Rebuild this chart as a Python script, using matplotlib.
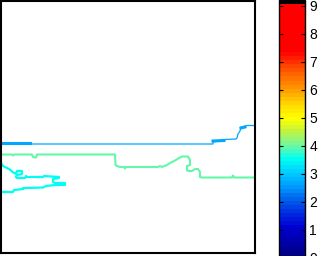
import numpy as np
import matplotlib
matplotlib.use("Agg")
import matplotlib.pyplot as plt
from matplotlib.colors import ListedColormap, Normalize, LinearSegmentedColormap
from matplotlib.cm import ScalarMappable

plt.rcParams['font.family'] = ['Liberation Sans', 'DejaVu Sans']

# colour scale
cb_ticks = [0, 1, 2, 3, 4, 5, 6, 7, 8, 9]
cb_max = 9.2
stop_vals = [0, 0.5, 1, 1.5, 2, 2.5, 3, 3.5, 4, 4.5, 5, 5.5, 6, 6.5, 7, 7.4, 9.2]
stop_cols = [(0, 0, 0.5), (0, 0, 0.67), (0, 0, 0.82), (0, 0.16, 0.88), (0, 0.38, 0.92),
             (0, 0.6, 1), (0, 0.8, 1), (0, 1, 0.95), (0.45, 0.97, 0.62), (0.75, 0.95, 0.25),
             (1, 1, 0), (1, 0.85, 0), (1, 0.62, 0), (1, 0.42, 0), (1, 0.2, 0), (1, 0, 0), (1, 0, 0)]

# contour traces (x, depth) and their levels
blue_level = 2.7
blue_x = [1, 213, 213, 225, 236, 237, 238, 240, 241, 246, 247, 254]
blue_y = [144, 144, 142, 139.5, 139, 138, 134, 131, 127, 126, 125.5, 125.5]
blue_thick_x = [[1, 30], [213, 224], [241, 245]]
blue_thick_y = [[143, 143], [141, 140.5], [128, 127]]

green_level = 4.0
green_x = [1, 12, 13, 14, 32, 33, 36, 37, 115, 115.5, 117, 120, 124, 125, 126, 158, 160, 162,
           167, 170, 175, 180, 182, 188, 190, 190, 187, 187, 189, 192, 195, 198, 200, 200,
           202, 232, 233, 234, 254]
green_y = [154.5, 154.5, 155.5, 154.5, 154.5, 157, 157.5, 154.5, 154.5, 165, 166, 167, 167,
           168.5, 167, 167, 166, 167, 165, 163, 160.5, 157.5, 156.5, 156.5, 160, 165, 166,
           170.5, 171, 171, 169, 169, 172, 177, 177.5, 177.5, 175.5, 177.5, 177.5]

cyan_level = 3.5
cyan_x = [1, 3, 5, 7, 9, 11, 13, 15, 16, 17, 22, 22, 17, 16, 17, 25, 26, 27, 43, 44, 59, 59,
          53, 53, 55, 65, 65, 55, 46, 43, 28, 23, 23, 14, 13, 1]
cyan_y = [163, 166, 167, 168, 169, 170.5, 172.5, 173, 174, 171, 171, 174, 175, 177, 178, 178,
          176, 177, 177, 176, 177, 178, 179, 182, 183, 183, 185, 185, 186, 187.5, 188, 188,
          189, 190, 192, 192]

# 64-step colour map with black on top
smooth = LinearSegmentedColormap.from_list(
    'base', list(zip(np.array(stop_vals) / cb_max, stop_cols)))
cols = smooth(np.linspace(0, 1, 64))
cols[-1] = (0, 0, 0, 1)
cmap = ListedColormap(cols)
norm = Normalize(0, cb_max)

fig = plt.figure(figsize=(3.26, 2.56), dpi=100)
W, H = 326, 256
ax = fig.add_axes([1 / W, 3 / H, 254 / W, 252 / H])
ax.set_xlim(1, 255)
ax.set_ylim(253, 1)
ax.set_xticks([])
ax.set_yticks([])
for s in ax.spines.values():
    s.set_linewidth(1.5)

ax.plot(blue_x, blue_y, color=cmap(norm(blue_level)), lw=0.9)
for tx, ty in zip(blue_thick_x, blue_thick_y):
    ax.plot(tx, ty, color=cmap(norm(blue_level)), lw=2.2)
ax.plot(green_x, green_y, color=cmap(norm(green_level)), lw=1.5)
ax.plot(cyan_x, cyan_y, color=cmap(norm(cyan_level)), lw=1.6)

cax = fig.add_axes([279 / W, -1.6 / H, 26 / W, 257.6 / H])
cb = fig.colorbar(ScalarMappable(norm=norm, cmap=cmap), cax=cax, ticks=cb_ticks)
cax.tick_params(direction='in', length=3, width=0.8, left=True, right=True,
                labelsize=10, pad=3)
cb.outline.set_linewidth(1)

fig.savefig("out.png", dpi=100)
